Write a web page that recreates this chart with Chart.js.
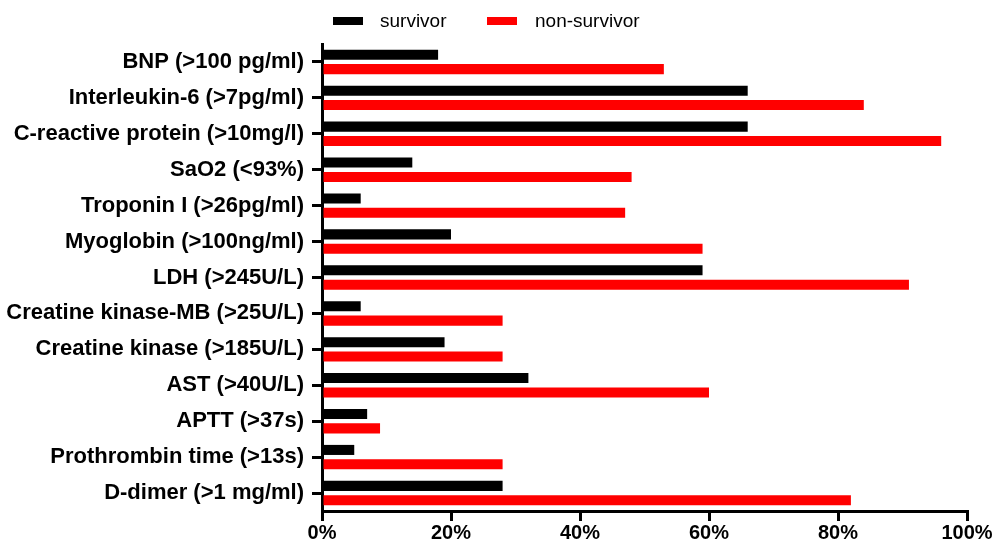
<!DOCTYPE html>
<html>
<head>
<meta charset="utf-8">
<script src="https://cdn.jsdelivr.net/npm/chart.js@4/dist/chart.umd.min.js"></script>
<style>
  html, body { margin:0; padding:0; background:#fff; }
  #wrap { position:relative; width:993px; height:547px; }
  #legend { position:absolute; top:0; left:0; width:993px; height:40px; font-family:"Liberation Sans", Arial, sans-serif; font-size:19px; color:#000; }
  .lg-box { position:absolute; top:17px; width:30px; height:8px; }
  .lg-txt { position:absolute; top:10px; line-height:22px; }
</style>
</head>
<body>
<div id="wrap">
  <canvas id="chart" width="993" height="547"></canvas>
  <div id="legend"></div>
</div>
<script>
/* ===== DATA ===== */
const categories = [
  'BNP (>100 pg/ml)', 'Interleukin-6 (>7pg/ml)', 'C-reactive protein (>10mg/l)', 'SaO2 (<93%)',
  'Troponin I (>26pg/ml)', 'Myoglobin (>100ng/ml)', 'LDH (>245U/L)', 'Creatine kinase-MB (>25U/L)',
  'Creatine kinase (>185U/L)', 'AST (>40U/L)', 'APTT (>37s)', 'Prothrombin time (>13s)', 'D-dimer (>1 mg/ml)'
];
const survivor    = [18, 66, 66, 14, 6, 20, 59, 6, 19, 32, 7, 5, 28];
const nonSurvivor = [53, 84, 96, 48, 47, 59, 91, 28, 28, 60, 9, 28, 82];
const xTicks = [0, 20, 40, 60, 80, 100];

const FONT = '"Liberation Sans", Arial, sans-serif';

/* ===== LEGEND (html) ===== */
const legendItems = [
  { label: 'survivor', color: '#000000', box: 333, text: 380 },
  { label: 'non-survivor', color: '#ff0000', box: 487, text: 535 }
];
document.getElementById('legend').innerHTML = legendItems.map(it =>
  `<div class="lg-box" style="left:${it.box}px;background:${it.color}"></div>` +
  `<div class="lg-txt" style="left:${it.text}px">${it.label}</div>`).join('');

/* ===== CHART ===== */
new Chart(document.getElementById('chart'), {
  type: 'bar',
  data: {
    labels: categories,
    datasets: [
      { label: 'survivor', data: survivor, backgroundColor: '#000000', borderWidth: 0,
        categoryPercentage: 0.8, barPercentage: 0.7 },
      { label: 'non-survivor', data: nonSurvivor, backgroundColor: '#ff0000', borderWidth: 0,
        categoryPercentage: 0.8, barPercentage: 0.7 }
    ]
  },
  options: {
    indexAxis: 'y',
    responsive: false,
    animation: false,
    layout: { padding: { top: 44, right: 26, left: 0, bottom: 0 } },
    plugins: { legend: { display: false }, tooltip: { enabled: false } },
    scales: {
      x: {
        min: 0, max: 100,
        afterFit: s => { s.height = 36; },
        afterBuildTicks: s => { s.ticks = xTicks.map(v => ({ value: v })); },
        ticks: { callback: v => v + '%', color: '#000', padding: 0,
                 font: { family: FONT, size: 20, weight: 'bold' }, maxRotation: 0 },
        grid: { drawOnChartArea: false, drawTicks: true, tickLength: 10, color: '#000', lineWidth: 3 },
        border: { display: true, color: '#000', width: 3 }
      },
      y: {
        afterFit: s => { s.width = 322; },
        ticks: { color: '#000', padding: 8, autoSkip: false,
                 font: { family: FONT, size: 22, weight: 'bold' } },
        grid: { offset: false, drawOnChartArea: false, drawTicks: true, tickLength: 10, color: '#000', lineWidth: 3 },
        border: { display: true, color: '#000', width: 3 }
      }
    }
  }
});
</script>
</body>
</html>
